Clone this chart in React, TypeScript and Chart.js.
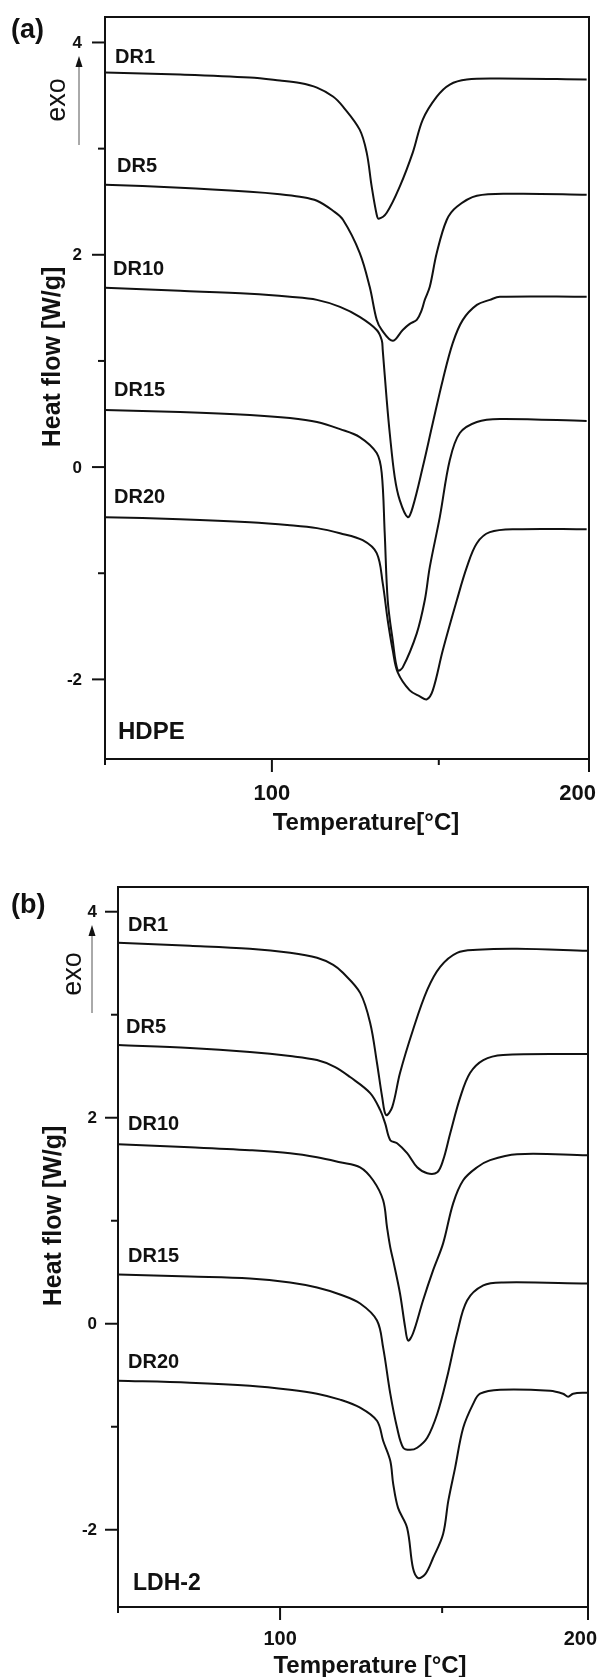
import React, { useEffect, useRef } from 'react';
import { Chart, registerables } from 'chart.js';

Chart.register(...registerables);

// ---------- Data (Temperature °C, Heat flow W/g) ----------
const SERIES_LABELS = ['DR1', 'DR5', 'DR10', 'DR15', 'DR20'];

// Panel (a) HDPE
const hdpeDR1_T = [50, 72.5, 93.4, 102.4, 108.4, 113.5, 118.3, 121.3, 126.3, 128.4, 129.9, 131.4, 132.0, 134.4, 138.3, 142.2, 145.2, 149.4, 153.3, 158.4, 168.3, 194.3];
const hdpeDR1_H = [3.717, 3.698, 3.670, 3.642, 3.618, 3.575, 3.491, 3.396, 3.179, 2.962, 2.642, 2.377, 2.34, 2.396, 2.642, 2.962, 3.274, 3.49, 3.604, 3.651, 3.66, 3.651];
const hdpeDR5_T = [50, 72.5, 93.4, 102.4, 108.4, 113.5, 118.3, 121.3, 126.3, 129.3, 131.4, 132.9, 136.2, 139.2, 141.3, 143.4, 144.9, 145.8, 147.3, 149.4, 152.4, 155.4, 161.4, 173.4, 194.3];
const hdpeDR5_H = [2.66, 2.632, 2.594, 2.571, 2.547, 2.509, 2.415, 2.33, 2.019, 1.698, 1.387, 1.292, 1.189, 1.292, 1.349, 1.387, 1.481, 1.575, 1.698, 2.019, 2.33, 2.453, 2.557, 2.575, 2.566];
const hdpeDR10_T = [50, 72.5, 93.4, 105.4, 113.5, 120.4, 126.3, 131.4, 132.9, 133.2, 134.4, 135.3, 136.8, 138.3, 140.7, 142.2, 145.2, 148.2, 151.2, 154.2, 157.2, 161.4, 165.3, 168.3, 194.3];
const hdpeDR10_H = [1.689, 1.66, 1.632, 1.604, 1.575, 1.509, 1.415, 1.292, 1.198, 1.104, 0.632, 0.321, -0.094, -0.311, -0.472, -0.377, 0.0, 0.415, 0.821, 1.17, 1.387, 1.528, 1.575, 1.604, 1.604];
const hdpeDR15_T = [50, 72.5, 93.4, 105.4, 113.5, 120.4, 126.3, 131.4, 132.9, 133.8, 134.7, 136.2, 137.7, 139.2, 143.4, 145.8, 147.3, 150.3, 153.3, 156.3, 161.4, 168.3, 194.3];
const hdpeDR15_H = [0.538, 0.519, 0.491, 0.462, 0.425, 0.358, 0.283, 0.132, -0.057, -0.623, -1.255, -1.632, -1.915, -1.887, -1.566, -1.255, -0.943, -0.472, 0.066, 0.321, 0.425, 0.453, 0.434];
const hdpeDR20_T = [50, 72.5, 93.4, 105.4, 113.5, 120.4, 127.2, 131.4, 133.2, 134.7, 136.2, 137.7, 141.3, 144.3, 146.4, 148.2, 151.2, 155.4, 158.4, 161.4, 165.3, 173.4, 194.3];
const hdpeDR20_H = [-0.472, -0.491, -0.519, -0.547, -0.575, -0.623, -0.689, -0.811, -1.094, -1.443, -1.726, -1.934, -2.104, -2.16, -2.189, -2.104, -1.726, -1.255, -0.943, -0.717, -0.613, -0.585, -0.585];

// Panel (b) LDH-2
const ldhDR1_T = [50, 72.2, 90.7, 103.1, 111.4, 116.4, 119.4, 124.7, 127.8, 129.9, 131.5, 132.7, 134.6, 137.0, 141.0, 145.4, 149.4, 154.6, 160.8, 173.1, 194.8];
const ldhDR1_H = [3.698, 3.669, 3.64, 3.601, 3.553, 3.484, 3.407, 3.212, 2.92, 2.531, 2.2, 2.025, 2.103, 2.434, 2.852, 3.241, 3.465, 3.601, 3.63, 3.64, 3.621];
const ldhDR5_T = [50, 72.2, 90.7, 103.1, 111.4, 117.0, 121.6, 127.8, 130.9, 132.4, 134.0, 136.1, 139.2, 142.3, 145.4, 148.5, 150.3, 152.5, 155.6, 158.6, 162.7, 168.8, 194.8];
const ldhDR5_H = [2.706, 2.677, 2.638, 2.599, 2.56, 2.492, 2.395, 2.239, 2.074, 1.947, 1.782, 1.753, 1.656, 1.519, 1.461, 1.471, 1.588, 1.85, 2.2, 2.434, 2.56, 2.609, 2.619];
const ldhDR10_T = [50, 72.2, 90.7, 103.1, 111.4, 118.5, 124.7, 128.7, 131.8, 133.0, 134.0, 134.9, 137.0, 138.6, 139.5, 141.0, 144.1, 147.2, 150.3, 153.4, 156.5, 160.8, 164.8, 173.1, 194.8];
const ldhDR10_H = [1.743, 1.714, 1.685, 1.656, 1.617, 1.568, 1.519, 1.393, 1.198, 0.936, 0.741, 0.615, 0.294, -0.037, -0.163, -0.095, 0.226, 0.518, 0.78, 1.169, 1.393, 1.519, 1.588, 1.646, 1.636];
const ldhDR15_T = [50, 72.2, 90.7, 103.1, 111.4, 118.5, 124.7, 129.9, 131.8, 134.0, 136.1, 138.0, 140.1, 142.3, 145.4, 148.5, 151.5, 154.6, 157.7, 162.7, 168.8, 194.8];
const ldhDR15_H = [0.479, 0.459, 0.44, 0.401, 0.352, 0.284, 0.196, 0.031, -0.232, -0.679, -1.01, -1.204, -1.224, -1.204, -1.107, -0.874, -0.523, -0.095, 0.226, 0.372, 0.401, 0.391];
const ldhDR20_T = [50, 72.2, 90.7, 103.1, 111.4, 118.5, 124.7, 129.9, 131.8, 134.0, 134.9, 136.4, 139.2, 141.0, 142.6, 144.8, 147.2, 150.3, 151.9, 154.0, 156.5, 159.6, 161.7, 167.9, 183.3, 187.3, 188.9, 190.4, 194.8];
const ldhDR20_H = [-0.553, -0.572, -0.601, -0.64, -0.679, -0.737, -0.815, -0.942, -1.136, -1.331, -1.554, -1.788, -1.982, -2.372, -2.469, -2.43, -2.274, -2.041, -1.72, -1.399, -1.01, -0.776, -0.679, -0.64, -0.65, -0.679, -0.708, -0.679, -0.669];

// Axis ticks
const X_MIN = 50;
const X_MAX = 195;
const Y_MIN = -2.75;
const Y_MAX = 4.24;
const Y_MAJOR_TICKS = [4, 2, 0, -2];
const Y_MINOR_TICKS = [3, 1, -1];
const X_MAJOR_TICKS = [100];
const X_MINOR_TICKS = [50, 150];
const X_TICK_LABELS = ['100'];
const X_END_LABEL = '200';

const FONT = '"Liberation Sans", Arial, Helvetica, sans-serif';

type Panel = {
  top: number; height: number; padTop: number; padRight: number;
  yAxisWidth: number; xAxisHeight: number;
  letter: string; letterPos: [number, number];
  material: string; matPos: [number, number]; matFont: number;
  labelPos: [number, number][];
  yTickRight: number; xLabelBase: number; xLabelFont: number; endLabelRight: number;
  xTitle: string; xTitlePos: [number, number];
  yTitle: string; yTitlePos: [number, number]; yTitleFont: number;
  exoPos: [number, number]; arrowX: number; arrowY: [number, number];
  series: { T: number[]; H: number[] }[];
};

const panels: Panel[] = [
  {
    top: 0, height: 840, padTop: 17, padRight: 9, yAxisWidth: 105, xAxisHeight: 81,
    letter: '(a)', letterPos: [11, 38],
    material: 'HDPE', matPos: [118, 739], matFont: 24,
    labelPos: [[115, 63], [117, 172], [113, 275], [114, 396], [114, 503]],
    yTickRight: 82, xLabelBase: 800, xLabelFont: 22, endLabelRight: 596,
    xTitle: 'Temperature[°C]', xTitlePos: [366, 830],
    yTitle: 'Heat flow [W/g]', yTitlePos: [53, 357], yTitleFont: 25,
    exoPos: [58, 100], arrowX: 79, arrowY: [145, 56],
    series: [
      { T: hdpeDR1_T, H: hdpeDR1_H },
      { T: hdpeDR5_T, H: hdpeDR5_H },
      { T: hdpeDR10_T, H: hdpeDR10_H },
      { T: hdpeDR15_T, H: hdpeDR15_H },
      { T: hdpeDR20_T, H: hdpeDR20_H },
    ],
  },
  {
    top: 840, height: 837, padTop: 47, padRight: 10, yAxisWidth: 118, xAxisHeight: 70,
    letter: '(b)', letterPos: [11, 73],
    material: 'LDH-2', matPos: [133, 750], matFont: 23,
    labelPos: [[128, 91], [126, 193], [128, 290], [128, 422], [128, 528]],
    yTickRight: 97, xLabelBase: 805, xLabelFont: 20, endLabelRight: 597,
    xTitle: 'Temperature [°C]', xTitlePos: [370, 833],
    yTitle: 'Heat flow [W/g]', yTitlePos: [54, 376], yTitleFont: 25,
    exoPos: [74, 134], arrowX: 92, arrowY: [173, 85],
    series: [
      { T: ldhDR1_T, H: ldhDR1_H },
      { T: ldhDR5_T, H: ldhDR5_H },
      { T: ldhDR10_T, H: ldhDR10_H },
      { T: ldhDR15_T, H: ldhDR15_H },
      { T: ldhDR20_T, H: ldhDR20_H },
    ],
  },
];

function makeOverlay(p: Panel) {
  return {
    id: 'overlay',
    afterDraw(chart: any) {
      const { ctx, chartArea: ca, scales } = chart;
      const xs = scales.x;
      const ys = scales.y;
      const ink = '#111';
      ctx.save();
      ctx.strokeStyle = ink;
      ctx.fillStyle = ink;
      ctx.lineWidth = 2;
      ctx.lineCap = 'butt';
      ctx.strokeRect(ca.left, ca.top, ca.right - ca.left, ca.bottom - ca.top);

      const seg = (x1: number, y1: number, x2: number, y2: number) => {
        ctx.beginPath(); ctx.moveTo(x1, y1); ctx.lineTo(x2, y2); ctx.stroke();
      };
      Y_MAJOR_TICKS.forEach((v) => { const y = ys.getPixelForValue(v); seg(ca.left - 13, y, ca.left, y); });
      Y_MINOR_TICKS.forEach((v) => { const y = ys.getPixelForValue(v); seg(ca.left - 7, y, ca.left, y); });
      X_MAJOR_TICKS.forEach((v) => { const x = xs.getPixelForValue(v); seg(x, ca.bottom, x, ca.bottom + 13); });
      X_MINOR_TICKS.forEach((v) => { const x = xs.getPixelForValue(v); seg(x, ca.bottom, x, ca.bottom + 6); });
      seg(ca.right, ca.bottom, ca.right, ca.bottom + 13);

      ctx.font = `bold 17px ${FONT}`;
      ctx.textAlign = 'right';
      ctx.textBaseline = 'middle';
      Y_MAJOR_TICKS.forEach((v) => { ctx.fillText(String(v), p.yTickRight, ys.getPixelForValue(v) + 1); });

      ctx.font = `bold ${p.xLabelFont}px ${FONT}`;
      ctx.textBaseline = 'alphabetic';
      ctx.textAlign = 'center';
      X_MAJOR_TICKS.forEach((v, i) => { ctx.fillText(X_TICK_LABELS[i], xs.getPixelForValue(v), p.xLabelBase); });
      ctx.textAlign = 'right';
      ctx.fillText(X_END_LABEL, p.endLabelRight, p.xLabelBase);

      ctx.font = `bold 24px ${FONT}`;
      ctx.textAlign = 'center';
      ctx.fillText(p.xTitle, p.xTitlePos[0], p.xTitlePos[1]);

      ctx.save();
      ctx.translate(p.yTitlePos[0], p.yTitlePos[1]);
      ctx.rotate(-Math.PI / 2);
      ctx.font = `bold ${p.yTitleFont}px ${FONT}`;
      ctx.textAlign = 'center';
      ctx.textBaseline = 'middle';
      ctx.fillText(p.yTitle, 0, 0);
      ctx.restore();

      ctx.save();
      ctx.translate(p.exoPos[0], p.exoPos[1]);
      ctx.rotate(-Math.PI / 2);
      ctx.font = `27px ${FONT}`;
      ctx.textAlign = 'center';
      ctx.textBaseline = 'middle';
      ctx.fillText('exo', 0, 0);
      ctx.restore();

      ctx.strokeStyle = '#555';
      ctx.lineWidth = 1;
      seg(p.arrowX, p.arrowY[0], p.arrowX, p.arrowY[1] + 8);
      ctx.beginPath();
      ctx.moveTo(p.arrowX, p.arrowY[1]);
      ctx.lineTo(p.arrowX - 3.5, p.arrowY[1] + 11);
      ctx.lineTo(p.arrowX + 3.5, p.arrowY[1] + 11);
      ctx.closePath();
      ctx.fill();

      ctx.font = `bold 27px ${FONT}`;
      ctx.textAlign = 'left';
      ctx.textBaseline = 'alphabetic';
      ctx.fillText(p.letter, p.letterPos[0], p.letterPos[1]);

      ctx.font = `bold 20px ${FONT}`;
      SERIES_LABELS.forEach((s, i) => { ctx.fillText(s, p.labelPos[i][0], p.labelPos[i][1]); });

      ctx.font = `bold ${p.matFont}px ${FONT}`;
      ctx.fillText(p.material, p.matPos[0], p.matPos[1]);
      ctx.restore();
    },
  };
}

function PanelChart({ p }: { p: Panel }) {
  const ref = useRef<HTMLCanvasElement | null>(null);
  useEffect(() => {
    if (!ref.current) return;
    const chart = new Chart(ref.current, {
      type: 'line',
      data: {
        datasets: p.series.map((s, i) => ({
          label: SERIES_LABELS[i],
          data: s.T.map((t, j) => ({ x: t, y: s.H[j] })),
          borderColor: '#111',
          borderWidth: 2,
          pointRadius: 0,
          fill: false,
          tension: 0.35,
        })),
      },
      options: {
        animation: false,
        responsive: false,
        devicePixelRatio: 1,
        layout: { padding: { top: p.padTop, right: p.padRight, bottom: 0, left: 0 } },
        plugins: { legend: { display: false }, tooltip: { enabled: false } },
        scales: {
          x: {
            type: 'linear', min: X_MIN, max: X_MAX,
            grid: { display: false }, border: { display: false },
            ticks: { display: false },
            afterFit: (sc: any) => { sc.height = p.xAxisHeight; },
          },
          y: {
            type: 'linear', min: Y_MIN, max: Y_MAX,
            grid: { display: false }, border: { display: false },
            ticks: { display: false },
            afterFit: (sc: any) => { sc.width = p.yAxisWidth; },
          },
        },
      },
      plugins: [makeOverlay(p)],
    });
    return () => chart.destroy();
  }, [p]);
  return (
    <canvas
      ref={ref}
      width={598}
      height={p.height}
      style={{ position: 'absolute', left: 0, top: p.top, width: 598, height: p.height }}
    />
  );
}

export default function App() {
  return (
    <div style={{ position: 'absolute', left: 0, top: 0, width: 598, height: 1677, background: '#fff' }}>
      {panels.map((p, i) => <PanelChart key={i} p={p} />)}
    </div>
  );
}
